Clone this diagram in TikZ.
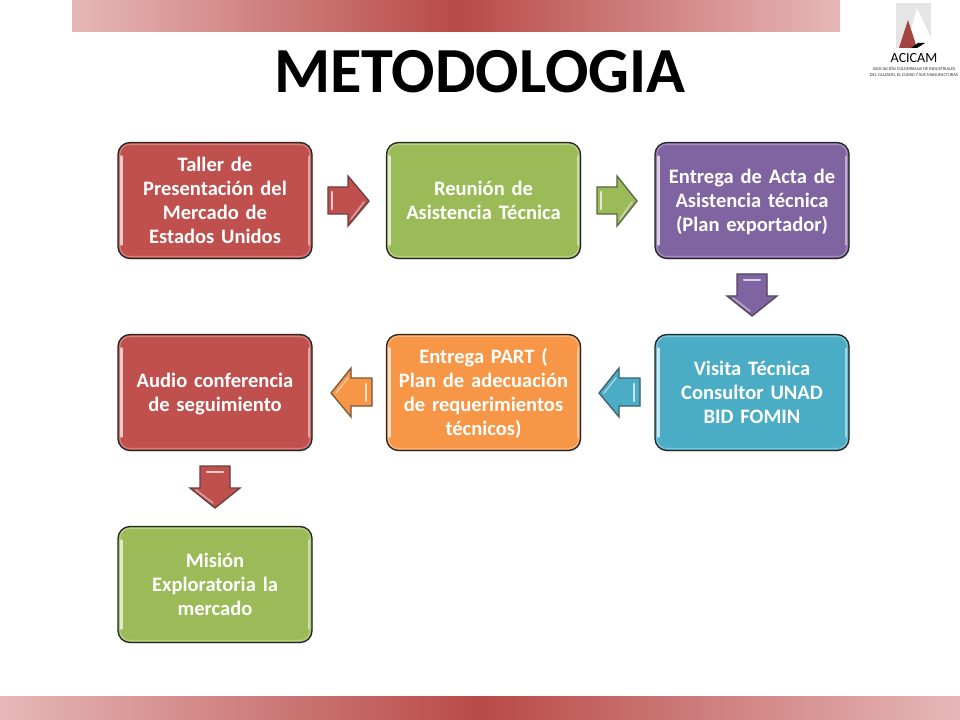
\documentclass[tikz,border=0pt]{standalone}
\usepackage{fontspec}
\setmainfont{Carlito}
\usetikzlibrary{shadows,calc}
\definecolor{cred}{HTML}{C0504D}
\definecolor{cgreen}{HTML}{9BBB59}
\definecolor{cpurple}{HTML}{8064A2}
\definecolor{cblue}{HTML}{4BACC6}
\definecolor{corange}{HTML}{F79646}
\definecolor{bandlight}{HTML}{E6B8B7}
\definecolor{bandmid}{HTML}{B84A48}
\tikzset{
  box/.style={draw=black!85,line width=1pt,rounded corners=9pt,minimum width=145.5pt,minimum height=87pt,
    inner sep=0pt,text width=143pt,align=center,text=white,font=\fontsize{15.4}{18}\selectfont\bfseries,
    fill=#1,drop shadow={shadow xshift=0.8pt,shadow yshift=-0.8pt,opacity=0.2}},
  gloss/.style={line width=2.2pt,draw=#1!30!white,line cap=round},
  softgloss/.style={line width=1.6pt,draw=#1!50!white,line cap=round},
  rim/.style={line width=0.9pt,draw=#1!72!white,rounded corners=7pt},
  arrowshape/.style={draw=#1!40!black!85,line width=1pt,fill=#1,line join=miter,
    drop shadow={shadow xshift=0.6pt,shadow yshift=-0.6pt,opacity=0.15}},
  arrowgloss/.style={line width=1.6pt,draw=#1!30!white,line cap=round},
  arrowedge/.style={line width=1.2pt,draw=#1!55!white,line cap=round},
  band/.style={left color=bandlight,right color=bandlight,middle color=bandmid,draw=none}
}
% box: name, centre x, centre y (px), colour, text
\newcommand{\flowbox}[5]{%
  \node[box=#4] (#1) at (#2,#3) {\rule{0pt}{15.6pt}#5\strut};
  \draw[rim=#4] ($(#1.north west)+(2pt,-2pt)$) rectangle ($(#1.south east)+(-2pt,2pt)$);
  \draw[gloss=#4] ($(#1.north west)+(3pt,-11pt)$) -- ($(#1.south west)+(3pt,11pt)$);
  \draw[softgloss=#4] ($(#1.north east)+(-2.6pt,-11pt)$) -- ($(#1.south east)+(-2.6pt,11pt)$);
}
\begin{document}
\begin{tikzpicture}[x=0.75pt,y=-0.75pt]
\useasboundingbox (0,0) rectangle (960,720);
\fill[white] (0,0) rectangle (960,720);
% bands
\shade[band] (72,0) rectangle (840,32);
\shade[band] (0,696) rectangle (960,720);
% title
\node[font=\fontsize{48.2}{52}\selectfont\bfseries,text=black,inner sep=0pt] (title) at (480,72) {METODOLOGIA};
% logo
\fill[black!10!white] (896,3) rectangle (931,48);
\fill[white] (917,8) -- (906,48) -- (931,48) -- (931,38) -- cycle;
\fill[cred!85!black] (908,20) -- (899,48) -- (917,48) -- cycle;
\fill[black] (911,48) -- (918,43) -- (925,43) -- (917,48) -- cycle;
\node[font=\fontsize{10.5}{10.5}\selectfont,text=black,inner sep=0pt] (logoname) at (914,58) {ACICAM};
\node[font=\fontsize{3.35}{4.4}\selectfont,text=black!80,inner sep=0pt,align=center] (logotext) at (914,72) {ASOCIACIÓN COLOMBIANA DE INDUSTRIALES\\DEL CALZADO, EL CUERO Y SUS MANUFACTURAS};
% boxes
\flowbox{a}{215}{200.5}{cred}{Taller de\\Presentación del\\Mercado de\\Estados Unidos}
\flowbox{b}{483.5}{200.5}{cgreen}{Reunión de\\Asistencia Técnica}
\flowbox{c}{752}{200.5}{cpurple}{Entrega de Acta de\\Asistencia técnica\\(Plan exportador)}
\flowbox{d}{752}{392.5}{cblue}{Visita Técnica\\Consultor UNAD\\BID FOMIN}
\flowbox{e}{483.5}{392.5}{corange}{Entrega PART (\\Plan de adecuación\\de requerimientos\\técnicos)}
\flowbox{f}{215}{392.5}{cred}{Audio conferencia\\de seguimiento}
\flowbox{g}{215}{584.5}{cgreen}{Misión\\Exploratoria la\\mercado}
% block arrows
\draw[arrowshape=cred] (328,187) -- (348,187) -- (348,176) -- (369,201) -- (348,226) -- (348,214) -- (328,214) -- cycle;
\draw[arrowgloss=cred] (332,192) -- (332,209);
\draw[arrowedge=cred] (351,219) -- (364,202);
\draw[arrowshape=cgreen] (597,187) -- (617,187) -- (617,176) -- (637,201) -- (617,226) -- (617,214) -- (597,214) -- cycle;
\draw[arrowgloss=cgreen] (601,192) -- (601,209);
\draw[arrowedge=cgreen] (620,219) -- (632,202);
\draw[arrowshape=cpurple] (737,274) -- (767,274) -- (767,296) -- (777,296) -- (752,316) -- (727,296) -- (737,296) -- cycle;
\draw[arrowgloss=cpurple] (744,280) -- (760,280);
\draw[arrowedge=cpurple] (733,298) -- (750,311);
\draw[arrowshape=cblue] (640,378) -- (619,378) -- (619,368) -- (599,393) -- (619,417) -- (619,406) -- (640,406) -- cycle;
\draw[arrowgloss=cblue] (634,384) -- (634,401);
\draw[arrowedge=cblue] (604,393) -- (616,378);
\draw[arrowshape=corange] (372,378) -- (351,378) -- (351,368) -- (331,393) -- (351,417) -- (351,406) -- (372,406) -- cycle;
\draw[arrowgloss=corange] (366,384) -- (366,401);
\draw[arrowedge=corange] (336,393) -- (348,378);
\draw[arrowshape=cred] (200,466) -- (230,466) -- (230,488) -- (240,488) -- (215,508) -- (190,488) -- (200,488) -- cycle;
\draw[arrowgloss=cred] (207,472) -- (223,472);
\draw[arrowedge=cred] (196,490) -- (213,503);
\end{tikzpicture}
\end{document}
